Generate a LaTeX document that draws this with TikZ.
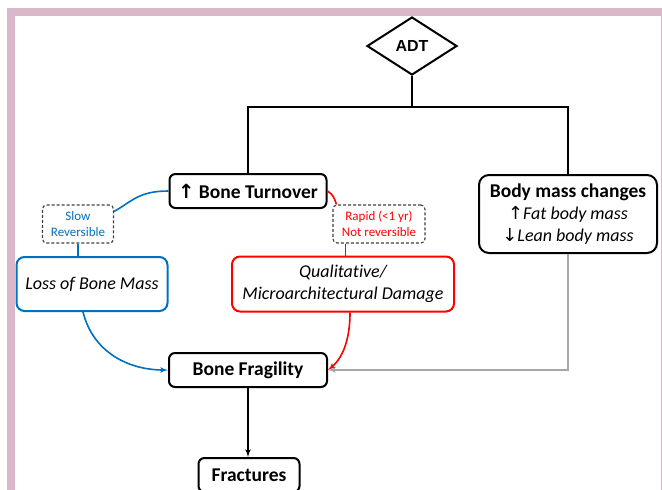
\documentclass[tikz,border=0pt]{standalone}
\usepackage{fontspec}
\setmainfont{Carlito}[Ligatures=NoCommon]
\newfontfamily\adtfont{Liberation Sans}
\newfontfamily\arrowfont{DejaVu Sans}
\usetikzlibrary{arrows,shapes.geometric}

\definecolor{boneblue}{RGB}{0,112,192}
\definecolor{fragred}{RGB}{255,0,0}
\definecolor{massgray}{RGB}{166,166,166}
\definecolor{framepink}{RGB}{218,184,201}
\definecolor{notegray}{RGB}{64,64,64}

\begin{document}
\begin{tikzpicture}[>=latex',x=1pt,y=-1pt]
  \tikzstyle{box}=[rectangle,draw=black,line width=2pt,rounded corners=6pt,fill=white,inner sep=2pt,font=\fontsize{19.5}{23}\selectfont\bfseries]
  \tikzstyle{softbox}=[rectangle,line width=2pt,rounded corners=8pt,fill=white,align=center,font=\fontsize{18}{22}\selectfont\itshape]
  \tikzstyle{note}=[rectangle,draw=notegray,line width=1.1pt,dash pattern=on 3pt off 2pt,rounded corners=4pt,fill=white,align=center,font=\fontsize{13}{16}\selectfont]
  \tikzstyle{link}=[line width=1.6pt]

\useasboundingbox (0,0) rectangle (662,490);
% frame
\fill [framepink] (7,8) rectangle (662,16);
\fill [framepink] (7,8) rectangle (15,490);
\fill [framepink] (660.5,16) rectangle (662,490);

\begin{scope}
\node [diamond,draw=black,line width=2pt,minimum width=90pt,minimum height=58pt,inner sep=0pt,aspect=1.55,font=\adtfont\fontsize{16}{18}\selectfont\bfseries] (adt) at (412,46) {ADT};
\coordinate (split) at (412,107);

\node [box,minimum width=157pt,minimum height=34pt] (turn) at (248,191) {{\arrowfont↑} Bone Turnover};
\node [box,align=center,rounded corners=10pt,minimum width=178pt,minimum height=78pt,font=\fontsize{18}{22}\selectfont] (mass) at (568,214) {\textbf{\fontsize{19.5}{22}\selectfont Body mass changes}\\{\arrowfont↑}\textit{Fat body mass}\\{\arrowfont↓}\textit{Lean body mass}};

\node [note,text=boneblue,minimum width=71pt,minimum height=38pt] (slow) at (78,224) {Slow\\Reversible};
\node [note,text=fragred,minimum width=92pt,minimum height=38pt] (rapid) at (379,224) {Rapid (<1 yr)\\Not reversible};
\coordinate (rapidfoot) at ([xshift=13pt]rapid.south west);

\node [softbox,draw=boneblue,minimum width=151pt,minimum height=54pt] (loss) at (92,284) {Loss of Bone Mass};
\node [softbox,draw=fragred,minimum width=222pt,minimum height=55pt] (qual) at (343,284) {Qualitative/\\Microarchitectural Damage};

\node [box,minimum width=158pt,minimum height=34pt] (frag) at (248,370) {Bone Fragility};
\node [box,minimum width=101pt,minimum height=34pt] (fract) at (249,475) {Fractures};

\draw [link] (adt.south) -- (split);
\draw [link] (turn.north) |- (split) -| (mass.north);

\draw [link,boneblue] (turn.west) .. controls +(-30,0) and +(18,-10) .. ([yshift=-7pt]slow.north east);
\draw [link,boneblue] (slow.south) -- (slow.south |- loss.north);
\draw [link,boneblue,->] ([xshift=-9pt]loss.south) .. controls +(10,40) and +(-40,0) .. (frag.west);

\draw [link,fragred] (turn.east) .. controls +(6,4) and +(-2,-6) .. ([xshift=4pt]rapid.north west);
\draw [link,fragred] (rapidfoot) -- (rapidfoot |- qual.north);
\draw [link,fragred,->] ([xshift=7pt]qual.south) .. controls +(0,35) and +(10,-8) .. (frag.east);

\draw [link,massgray,->] (mass.south) |- (frag.east);
\draw [link,->] (frag.south) -- (frag.south |- fract.north);
\end{scope}
\end{tikzpicture}
\end{document}
